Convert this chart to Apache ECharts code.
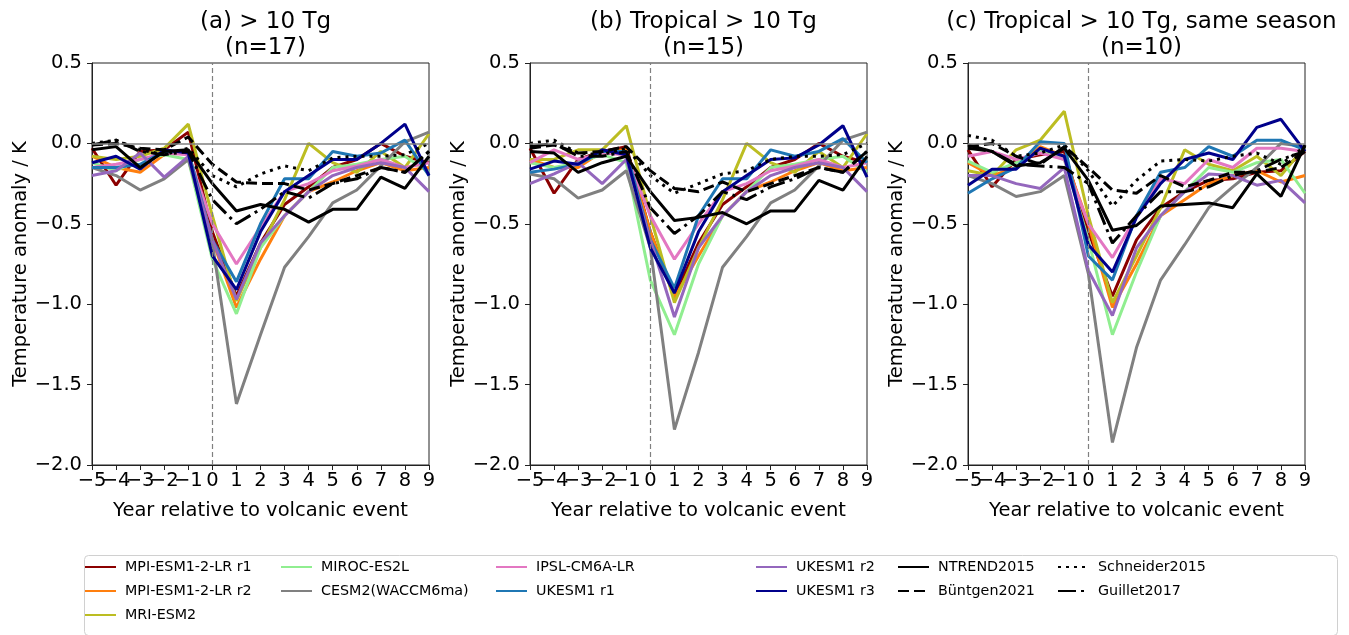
<!DOCTYPE html>
<html><head><meta charset="utf-8">
<script src="https://cdn.jsdelivr.net/npm/echarts@6/dist/echarts.min.js"></script>
<style>html,body{margin:0;padding:0;background:#fff}#c{width:1349px;height:635px}</style>
</head><body><div id="c"></div>
<script>
const years = [-5,-4,-3,-2,-1,0,1,2,3,4,5,6,7,8,9];
const seriesNames = ['MPI-ESM1-2-LR r1','MPI-ESM1-2-LR r2','MRI-ESM2','MIROC-ES2L','CESM2(WACCM6ma)','IPSL-CM6A-LR','UKESM1 r1','UKESM1 r2','UKESM1 r3','NTREND2015','Büntgen2021','Schneider2015','Guillet2017'];
const panelTitles = ['(a) > 10 Tg\n(n=17)','(b) Tropical > 10 Tg\n(n=15)','(c) Tropical > 10 Tg, same season\n(n=10)'];
const yTicks = [-2.0,-1.5,-1.0,-0.5,0.0,0.5];

// Panel (a)
const a_mpi_r1 = [-0.03,-0.26,-0.05,-0.04,0.07,-0.55,-0.95,-0.62,-0.38,-0.27,-0.15,-0.10,0.00,-0.08,-0.12];
const a_mpi_r2 = [-0.08,-0.15,-0.18,-0.07,-0.05,-0.60,-1.02,-0.72,-0.45,-0.30,-0.24,-0.17,-0.12,-0.17,-0.15];
const a_mri    = [-0.08,-0.10,-0.08,-0.03,0.12,-0.45,-0.98,-0.65,-0.35,0.00,-0.12,-0.18,-0.05,-0.15,0.06];
const a_miroc  = [-0.12,-0.17,-0.10,-0.07,-0.10,-0.72,-1.06,-0.65,-0.45,-0.30,-0.15,-0.13,-0.10,-0.08,-0.18];
const a_cesm   = [-0.15,-0.20,-0.29,-0.22,-0.10,-0.62,-1.62,-1.19,-0.77,-0.58,-0.37,-0.29,-0.14,0.01,0.07];
const a_ipsl   = [-0.15,-0.13,-0.10,-0.06,-0.07,-0.50,-0.75,-0.52,-0.30,-0.25,-0.17,-0.14,-0.10,-0.15,-0.12];
const a_uk1    = [-0.15,-0.15,-0.13,-0.05,-0.05,-0.60,-0.86,-0.50,-0.22,-0.22,-0.05,-0.08,-0.06,0.02,-0.20];
const a_uk2    = [-0.20,-0.17,-0.06,-0.21,-0.08,-0.60,-0.97,-0.62,-0.45,-0.30,-0.20,-0.15,-0.12,-0.15,-0.30];
const a_uk3    = [-0.12,-0.08,-0.16,-0.04,-0.06,-0.70,-0.91,-0.55,-0.30,-0.20,-0.10,-0.10,0.00,0.12,-0.20];
const a_ntrend = [-0.04,-0.02,-0.15,-0.05,-0.04,-0.25,-0.42,-0.38,-0.41,-0.49,-0.41,-0.41,-0.21,-0.28,-0.08];
const a_buntgen= [-0.01,0.00,-0.03,-0.04,0.04,-0.13,-0.24,-0.25,-0.25,-0.29,-0.25,-0.20,-0.15,-0.18,-0.05];
const a_schneider=[0.00,0.02,-0.04,-0.07,-0.03,-0.20,-0.27,-0.19,-0.14,-0.17,-0.09,-0.08,-0.08,-0.07,0.00];
const a_guillet= [-0.01,0.02,-0.05,-0.07,-0.05,-0.35,-0.50,-0.41,-0.30,-0.34,-0.25,-0.22,-0.15,-0.18,-0.05];

// Panel (b)
const b_mpi_r1 = [-0.03,-0.31,-0.10,-0.05,-0.02,-0.55,-0.95,-0.62,-0.38,-0.27,-0.15,-0.10,0.00,-0.08,-0.12];
const b_mpi_r2 = [-0.10,-0.15,-0.15,-0.05,-0.04,-0.55,-0.96,-0.70,-0.45,-0.30,-0.24,-0.17,-0.12,-0.17,-0.15];
const b_mri    = [-0.10,-0.10,-0.04,-0.04,0.11,-0.45,-0.99,-0.65,-0.35,0.00,-0.12,-0.18,-0.05,-0.15,0.06];
const b_miroc  = [-0.12,-0.15,-0.12,-0.07,-0.12,-0.85,-1.19,-0.75,-0.45,-0.30,-0.15,-0.13,-0.10,-0.08,-0.18];
const b_cesm   = [-0.19,-0.22,-0.34,-0.29,-0.17,-0.65,-1.78,-1.30,-0.77,-0.58,-0.37,-0.29,-0.14,0.02,0.07];
const b_ipsl   = [-0.12,-0.04,-0.10,-0.06,-0.07,-0.45,-0.72,-0.50,-0.30,-0.25,-0.17,-0.14,-0.10,-0.15,-0.12];
const b_uk1    = [-0.18,-0.16,-0.13,-0.05,-0.05,-0.60,-0.90,-0.45,-0.22,-0.22,-0.04,-0.08,-0.05,0.03,-0.12];
const b_uk2    = [-0.25,-0.19,-0.12,-0.25,-0.10,-0.60,-1.08,-0.65,-0.45,-0.30,-0.20,-0.15,-0.12,-0.15,-0.30];
const b_uk3    = [-0.16,-0.11,-0.13,-0.04,-0.07,-0.65,-0.93,-0.55,-0.30,-0.20,-0.10,-0.09,-0.01,0.11,-0.21];
const b_ntrend = [-0.05,-0.06,-0.18,-0.12,-0.08,-0.30,-0.48,-0.46,-0.43,-0.50,-0.42,-0.42,-0.23,-0.29,-0.08];
const b_buntgen= [-0.03,-0.01,-0.06,-0.05,-0.02,-0.17,-0.28,-0.30,-0.24,-0.30,-0.25,-0.20,-0.15,-0.18,-0.05];
const b_schneider=[0.00,0.02,-0.06,-0.07,-0.03,-0.20,-0.31,-0.25,-0.19,-0.17,-0.10,-0.08,-0.08,-0.07,0.00];
const b_guillet= [-0.02,0.00,-0.08,-0.08,-0.05,-0.40,-0.56,-0.45,-0.30,-0.35,-0.27,-0.22,-0.15,-0.18,-0.05];

// Panel (c)
const c_mpi_r1 = [-0.04,-0.27,-0.10,-0.07,-0.05,-0.55,-0.95,-0.60,-0.40,-0.30,-0.23,-0.22,-0.18,-0.17,-0.05];
const c_mpi_r2 = [-0.12,-0.20,-0.15,-0.02,-0.08,-0.50,-1.02,-0.75,-0.45,-0.35,-0.25,-0.20,-0.17,-0.24,-0.20];
const c_mri    = [-0.17,-0.20,-0.04,0.02,0.20,-0.45,-0.99,-0.70,-0.40,-0.04,-0.13,-0.17,-0.08,-0.20,-0.02];
const c_miroc  = [-0.11,-0.18,-0.12,-0.05,-0.10,-0.60,-1.19,-0.80,-0.45,-0.30,-0.15,-0.18,-0.12,-0.10,-0.31];
const c_cesm   = [-0.20,-0.25,-0.33,-0.30,-0.20,-0.81,-1.86,-1.27,-0.85,-0.63,-0.40,-0.27,-0.15,0.00,-0.02];
const c_ipsl   = [-0.08,-0.05,-0.10,-0.06,-0.10,-0.50,-0.71,-0.45,-0.22,-0.25,-0.10,-0.15,-0.03,-0.03,-0.05];
const c_uk1    = [-0.31,-0.22,-0.15,0.01,0.00,-0.70,-0.85,-0.45,-0.18,-0.15,-0.02,-0.08,0.02,0.02,-0.04];
const c_uk2    = [-0.20,-0.20,-0.25,-0.28,-0.15,-0.79,-1.07,-0.65,-0.45,-0.30,-0.19,-0.20,-0.26,-0.23,-0.37];
const c_uk3    = [-0.26,-0.16,-0.16,-0.03,-0.08,-0.63,-0.80,-0.46,-0.25,-0.10,-0.06,-0.10,0.10,0.15,-0.05];
const c_ntrend = [-0.01,-0.05,-0.14,-0.12,-0.03,-0.23,-0.54,-0.51,-0.39,-0.38,-0.37,-0.40,-0.19,-0.33,-0.01];
const c_buntgen= [-0.02,0.00,-0.08,-0.13,-0.02,-0.15,-0.29,-0.31,-0.20,-0.27,-0.23,-0.18,-0.18,-0.15,-0.05];
const c_schneider=[0.05,0.02,-0.08,-0.06,-0.01,-0.17,-0.39,-0.23,-0.11,-0.10,-0.11,-0.08,-0.06,-0.13,-0.02];
const c_guillet= [-0.03,-0.05,-0.13,-0.14,-0.15,-0.25,-0.62,-0.45,-0.30,-0.30,-0.27,-0.20,-0.17,-0.10,-0.05];

const panels = [
  [a_mpi_r1,a_mpi_r2,a_mri,a_miroc,a_cesm,a_ipsl,a_uk1,a_uk2,a_uk3,a_ntrend,a_buntgen,a_schneider,a_guillet],
  [b_mpi_r1,b_mpi_r2,b_mri,b_miroc,b_cesm,b_ipsl,b_uk1,b_uk2,b_uk3,b_ntrend,b_buntgen,b_schneider,b_guillet],
  [c_mpi_r1,c_mpi_r2,c_mri,c_miroc,c_cesm,c_ipsl,c_uk1,c_uk2,c_uk3,c_ntrend,c_buntgen,c_schneider,c_guillet]
];

// styles
const styles = [
  {color:'#8b0000', type:'solid'},
  {color:'#ff7f0e', type:'solid'},
  {color:'#bcbd22', type:'solid'},
  {color:'#90ee90', type:'solid'},
  {color:'#808080', type:'solid'},
  {color:'#e377c2', type:'solid'},
  {color:'#1f77b4', type:'solid'},
  {color:'#9467bd', type:'solid'},
  {color:'#00008b', type:'solid'},
  {color:'#000000', type:'solid'},
  {color:'#000000', type:[11,5]},
  {color:'#000000', type:[3,5]},
  {color:'#000000', type:[18,5,3,5]}
];
const FONT = 'DejaVu Sans';
const gridLefts = [92, 530, 968];
const minus = s => String(s).replace('-', '\u2212');

const grids = [], xAxes = [], yAxes = [], series = [], titles = [];
gridLefts.forEach((gl, p) => {
  grids.push({left: gl, top: 63, width: 337, height: 402, show: true, borderColor: '#222', borderWidth: 1, backgroundColor: 'transparent'});
  const xBase = {
    type: 'value', gridIndex: p, min: years[0], max: years[years.length-1], interval: 1, position: 'bottom',
    splitLine: {show: false}
  };
  // main axis: line, ticks, even-year labels, axis name
  xAxes.push(Object.assign({}, xBase, {
    axisLine: {show: true, onZero: false, lineStyle: {color: '#222', width: 1}},
    axisTick: {show: true, length: 5, lineStyle: {color: '#222'}},
    axisLabel: {color: '#000', fontSize: 19.5, fontFamily: FONT, margin: 6, showMinLabel: true, showMaxLabel: true, hideOverlap: false,
                formatter: v => (Math.abs(v) % 2 === 0 ? minus(v) : '')},
    name: 'Year relative to volcanic event', nameLocation: 'middle', nameGap: 36,
    nameTextStyle: {color: '#000', fontSize: 19.5, fontFamily: FONT}
  }));
  // helper axis: odd-year labels only
  xAxes.push(Object.assign({}, xBase, {
    axisLine: {show: false, onZero: false},
    axisTick: {show: false},
    axisLabel: {color: '#000', fontSize: 19.5, fontFamily: FONT, margin: 6, showMinLabel: true, showMaxLabel: true, hideOverlap: false,
                formatter: v => (Math.abs(v) % 2 === 1 ? minus(v) : '')}
  }));
  yAxes.push({
    type: 'value', gridIndex: p, min: yTicks[0], max: yTicks[yTicks.length-1], interval: 0.5,
    axisLine: {show: true, onZero: false, lineStyle: {color: '#222', width: 1}},
    axisTick: {show: true, length: 5, lineStyle: {color: '#222'}},
    splitLine: {show: false},
    axisLabel: {color: '#000', fontSize: 19.5, fontFamily: FONT, margin: 10, showMinLabel: true, showMaxLabel: true, formatter: v => minus(v.toFixed(1))},
    name: 'Temperature anomaly / K', nameLocation: 'middle', nameGap: 59, nameRotate: 90,
    nameTextStyle: {color: '#000', fontSize: 19.5, fontFamily: FONT}
  });
  titles.push({
    text: panelTitles[p], left: gl + 168.5, top: 4, textAlign: 'center',
    textStyle: {fontSize: 23, fontWeight: 'normal', fontFamily: FONT, color: '#000', lineHeight: 26}
  });
  panels[p].forEach((vals, i) => {
    const s = {
      name: seriesNames[i], type: 'line', xAxisIndex: 2 * p, yAxisIndex: p,
      data: years.map((y, k) => [y, vals[k]]),
      symbol: 'none', showSymbol: false, smooth: false,
      lineStyle: {color: styles[i].color, width: 3, type: styles[i].type},
      itemStyle: {color: styles[i].color},
      z: i >= 9 ? 4 : 3,
      silent: true
    };
    if (i === 0) {
      s.markLine = {
        silent: true, symbol: ['none','none'], label: {show: false},
        animation: false,
        data: [
          {yAxis: 0, lineStyle: {color: '#808080', width: 1.5, type: 'solid'}},
          {xAxis: 0, lineStyle: {color: '#808080', width: 1.2, type: [5,3]}}
        ]
      };
    }
    series.push(s);
  });
});

const legendCols = [
  [0,1,2],[3,4],[5,6],[7,8],[9,10],[11,12]
];
const legendLefts = [84, 280, 495, 755, 897, 1057];
const legends = legendCols.map((col, j) => ({
  data: col.map(i => seriesNames[i]),
  orient: 'vertical', left: legendLefts[j], top: 560,
  itemWidth: 31, itemHeight: 15, itemGap: 10,
  selectedMode: false,
  itemStyle: {opacity: 0},
  textStyle: {fontSize: 14.3, fontFamily: FONT, color: '#000', padding: [0,0,0,4]},
  padding: 0
}));

const chart = echarts.init(document.getElementById('c'), null, {renderer: 'canvas'});
chart.setOption({
  backgroundColor: '#fff',
  animation: false,
  title: titles,
  grid: grids, xAxis: xAxes, yAxis: yAxes,
  legend: legends,
  graphic: [{type: 'rect', left: 82, top: 553, shape: {width: 1253, height: 80, r: 4},
             style: {fill: 'none', stroke: '#d0d0d0', lineWidth: 1}, z: -1}],
  series: series
});
</script></body></html>
